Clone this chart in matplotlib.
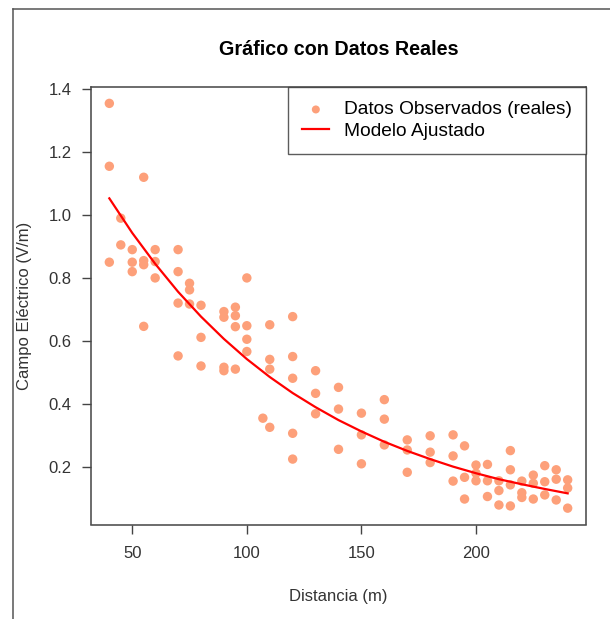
"""
    Campo electrico vs distancia, datos reales + modelo ajustado
"""

from matplotlib import pyplot as plt
from matplotlib.lines import Line2D

distancia = [40, 40, 40, 45, 45, 50, 50, 50, 55, 55, 55, 55, 60, 60, 60,
             70, 70, 70, 70, 75, 75, 75, 80, 80, 80, 90, 90, 90, 90,
             95, 95, 95, 95, 100, 100, 100, 100, 107, 110, 110, 110, 110,
             120, 120, 120, 120, 120, 130, 130, 130, 140, 140, 140,
             150, 150, 150, 160, 160, 160, 170, 170, 170, 180, 180, 180,
             190, 190, 190, 195, 195, 195, 200, 200, 200, 205, 205, 205,
             210, 210, 210, 215, 215, 215, 215, 220, 220, 220,
             225, 225, 225, 230, 230, 230, 235, 235, 235, 240, 240, 240]
campo = [1.355, 1.155, 0.85, 0.99, 0.905, 0.89, 0.85, 0.82,
         1.12, 0.855, 0.842, 0.646, 0.89, 0.852, 0.80,
         0.89, 0.82, 0.72, 0.552, 0.783, 0.762, 0.717, 0.713, 0.611, 0.52,
         0.693, 0.675, 0.516, 0.505, 0.707, 0.68, 0.645, 0.51,
         0.80, 0.648, 0.605, 0.566, 0.354, 0.651, 0.541, 0.51, 0.325,
         0.677, 0.55, 0.481, 0.306, 0.224, 0.505, 0.433, 0.368,
         0.452, 0.383, 0.255, 0.37, 0.301, 0.209, 0.413, 0.351, 0.269,
         0.285, 0.253, 0.182, 0.298, 0.246, 0.213, 0.301, 0.234, 0.154,
         0.266, 0.166, 0.097, 0.205, 0.179, 0.155, 0.207, 0.155, 0.105,
         0.155, 0.124, 0.078, 0.251, 0.19, 0.142, 0.075, 0.154, 0.117, 0.102,
         0.173, 0.147, 0.097, 0.203, 0.152, 0.110, 0.19, 0.16, 0.094,
         0.158, 0.132, 0.068]

# fitted model
dist_modelo = [40, 50, 60, 70, 80, 90, 100, 110, 120, 130, 140,
               150, 160, 170, 180, 190, 200, 210, 220, 230, 240]
campo_modelo = [1.053, 0.943, 0.845, 0.756, 0.677, 0.606, 0.542, 0.485,
                0.434, 0.389, 0.348, 0.312, 0.279, 0.250, 0.224, 0.200,
                0.179, 0.160, 0.144, 0.129, 0.115]

x_ticks = [50, 100, 150, 200]
y_ticks = [0.2, 0.4, 0.6, 0.8, 1.0, 1.2, 1.4]

plt.rcParams['font.family'] = ['Liberation Sans', 'DejaVu Sans']

fig = plt.figure(figsize=(6.10, 6.19), dpi=100)
ax = fig.add_axes([91 / 610, 1 - 524.5 / 619, 495 / 610, 437.8 / 619])

ax.scatter(distancia, campo, s=46, color="#FDA07A", edgecolors="none",
           label="Datos Observados (reales)", zorder=2)
ax.plot(dist_modelo, campo_modelo, color="#FF0000", lw=1.6,
        label="Modelo Ajustado", zorder=3)

ax.set_xlim(32, 248)
ax.set_ylim(0.016, 1.408)
ax.set_xticks(x_ticks)
ax.set_yticks(y_ticks)
ax.set_yticklabels([f"{v:.1f}" for v in y_ticks])
ax.tick_params(axis="both", direction="out", length=6.5, width=1.0,
               color="#444444", labelsize=12, labelcolor="#333333")
ax.tick_params(axis="x", pad=9)
ax.tick_params(axis="y", pad=7.5)
for sp in ax.spines.values():
    sp.set_color("#444444")
    sp.set_linewidth(1.1)

ax.set_xlabel("Distancia (m)", fontsize=12, color="#333333")
ax.xaxis.set_label_coords(0.5, -0.148)
ax.set_ylabel("Campo Eléctrico (V/m)", fontsize=12, color="#333333")
ax.yaxis.set_label_coords(-0.12, 0.5)
ax.set_title("Gráfico con Datos Reales", fontsize=14.2, fontweight="bold",
             pad=23)

leg = ax.legend(loc="upper right", bbox_to_anchor=(1, 1), borderaxespad=0,
                fontsize=13.8, frameon=True, fancybox=False, borderpad=0.75,
                handlelength=1.4, handletextpad=0.75, labelspacing=0.22,
                markerscale=0.85)
leg.get_frame().set_edgecolor("#333333")
leg.get_frame().set_linewidth(1.0)

# border of the screenshot
fig.add_artist(Line2D([13 / 610, 13 / 610], [0, 1 - 9 / 619],
                      transform=fig.transFigure, color="#555555", lw=1.1))
fig.add_artist(Line2D([13 / 610, 1], [1 - 9 / 619, 1 - 9 / 619],
                      transform=fig.transFigure, color="#555555", lw=1.1))

plt.savefig("out.png", dpi=100)
